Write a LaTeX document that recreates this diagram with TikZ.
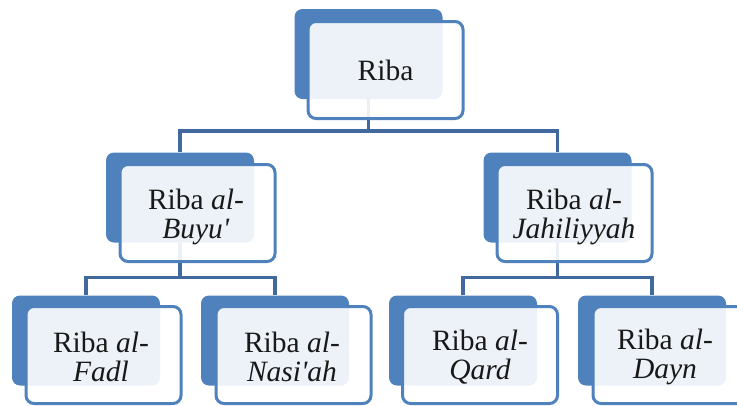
\documentclass[tikz,border=0pt]{standalone}
\usepackage{fontspec}
\setmainfont{Liberation Serif}
\usepackage{tikz}
\definecolor{boxblue}{HTML}{4F81BD}
\definecolor{linkblue}{HTML}{41699E}

\begin{document}
\begin{tikzpicture}[x=1pt,y=-1pt,
  back/.style={draw=none,fill=boxblue,rounded corners=8pt,minimum width=148pt,minimum height=90pt},
  front/.style={draw=boxblue,line width=3pt,fill=white,fill opacity=0.9,rounded corners=8pt,
    minimum width=155pt,minimum height=97pt},
  lbl/.style={align=center,font=\fontsize{29.5}{29}\selectfont,text=black!90,inner sep=0pt},
  link/.style={draw=linkblue,line width=3.5pt}]
\useasboundingbox (0,0) rectangle (737,405);
\clip (0,0) rectangle (737,405);
% back boxes
\node[back] (riba) at (368.5,54) {};
\node[back] (buyu) at (180,197.5) {};
\node[back] (jahil) at (557.5,197.5) {};
\node[back] (fadl) at (86,340.5) {};
\node[back] (nasi) at (275,340.5) {};
\node[back] (qard) at (463,340.5) {};
\node[back] (dayn) at (652,340.5) {};
% connectors
\draw[link] (riba.south) -- ++(0,32) coordinate (bar1) -| (buyu.north);
\draw[link] (bar1) -| (jahil.north);
\draw[link] (buyu.south) -- ++(0,35) coordinate (bar2) -| (fadl.north);
\draw[link] (bar2) -| (nasi.north);
\draw[link] (jahil.south) -- ++(0,35) coordinate (bar3) -| (qard.north);
\draw[link] (bar3) -| (dayn.north);
% front boxes
\node[front] (ribaF) at (385.5,70) {};
\node[front] (buyuF) at (197.5,213) {};
\node[front] (jahilF) at (574.5,213) {};
\node[front] (fadlF) at (103.5,355) {};
\node[front] (nasiF) at (293.5,355) {};
\node[front] (qardF) at (480,355) {};
\node[front] (daynF) at (670.5,355) {};
% texts
\node[lbl] (ribaL) at (385.5,70) {Riba};
\node[lbl] (buyuL) at (196,217) {Riba \textit{al-}\\\textit{Buyu\textquotesingle}};
\node[lbl] (jahilL) at (574,217) {Riba \textit{al-}\\\textit{Jahiliyyah}};
\node[lbl] (fadlL) at (101,357) {Riba \textit{al-}\\\textit{Fadl}};
\node[lbl] (nasiL) at (292,357) {Riba \textit{al-}\\\textit{Nasi\textquotesingle ah}};
\node[lbl] (qardL) at (480,357) {Riba \textit{al-}\\\textit{Qard}};
\node[lbl] (daynL) at (665,357) {Riba \textit{al-}\\\textit{Dayn}};
\end{tikzpicture}
\end{document}
